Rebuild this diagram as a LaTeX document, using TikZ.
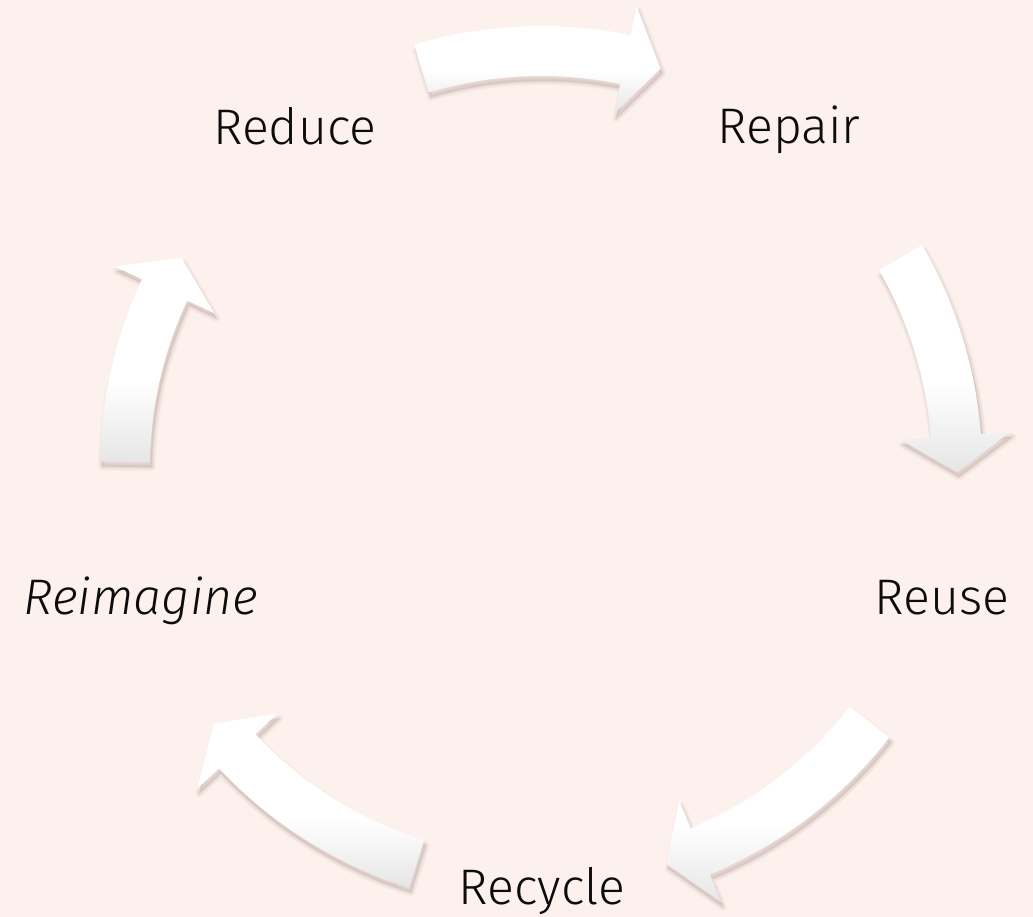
\documentclass[tikz,border=0pt]{standalone}
\usepackage{fontspec}
\IfFontExistsTF{Fira Sans Light}{\setmainfont{Fira Sans Light}[ItalicFont={Fira Sans Light Italic}]}{\setmainfont{Fira Sans}}
\definecolor{bg}{RGB}{253,241,237}
\definecolor{arrowgray}{RGB}{230,230,230}
\definecolor{shadowcol}{RGB}{90,60,50}
\definecolor{txt}{RGB}{12,12,12}
\pgfdeclareverticalshading{arrowshade}{100bp}{color(0bp)=(arrowgray); color(25bp)=(arrowgray); color(45bp)=(white); color(75bp)=(white); color(100bp)=(white)}
\begin{document}
\begin{tikzpicture}[x=1pt,y=1pt,
  lbl/.style={anchor=base, inner sep=0pt, font=\fontsize{50}{60}\selectfont, text=txt},
  arrowshape/.style={insert path={(\s:441) arc[start angle=\s, end angle=\b, radius=441] -- (\b:471) -- (\t:416) -- (\b:361) -- (\b:391) arc[start angle=\b, end angle=\s, radius=391] -- cycle}},
  shadowcopy/.style={fill=shadowcol, draw=shadowcol, fill opacity=0.02, draw opacity=0.02, line join=round},
  arrowbody/.style={shading=arrowshade}
]
\fill[bg] (0,0) rectangle (1033,917);
\useasboundingbox (0,0) rectangle (1033,917);
\begin{scope}[shift={(541,450)}]
\foreach \s/\t [evaluate=\t as \b using \t+5] in {106.7/73.3, 30.2/-0.7, -37.8/-72.5, -107.4/-141.9, 179.3/149.8} {
  \foreach \k in {1,...,6} {
    \path[shadowcopy, line width=\k*1.3pt, shift={(2,-5)}] [arrowshape];
  }
  \path[arrowbody] [arrowshape];
}
\end{scope}
\node[lbl] (reduce) at (295,772) {Reduce};
\node[lbl] (repair) at (789,773) {Repair};
\node[lbl] (reuse) at (942,302) {Reuse};
\node[lbl] (recycle) at (542,12) {Recycle};
\node[lbl] (reimagine) at (141,302) {\itshape Reimagine};
\end{tikzpicture}
\end{document}
